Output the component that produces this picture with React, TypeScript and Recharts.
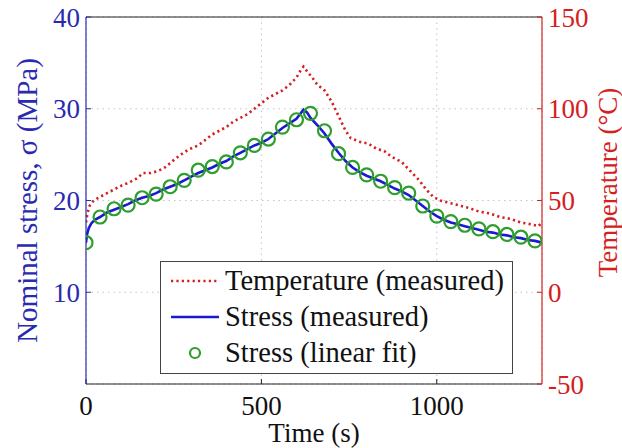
import React from 'react';
import { ComposedChart, Line, XAxis, YAxis, CartesianGrid, ReferenceLine } from 'recharts';

const FONT = '"Liberation Serif", "Times New Roman", serif';
const BLUE = '#1a1ad0';
const AXIS_BLUE = '#2a2ab0';
const RED = '#d42020';
const GREEN = '#2e9e2e';

// Temperature (measured), °C
const tempTime = [0, 4, 10, 22, 40, 60, 80, 100, 125, 145, 163, 185, 205, 225, 250, 270, 295, 320, 340, 360, 380, 400, 420, 440, 460, 480, 500, 520, 540, 560, 580, 600, 612, 620, 632, 645, 660, 680, 700, 720, 740, 755, 780, 805, 830, 850, 870, 900, 920, 950, 970, 990, 1010, 1040, 1070, 1090, 1120, 1150, 1180, 1210, 1240, 1270, 1290, 1300];
const tempValues = [38, 43, 47, 50, 52, 54, 56, 58, 60, 62, 65, 65, 66, 68, 72, 75, 78, 80, 83, 86, 88, 90, 93, 95, 97, 100, 103, 106, 108, 110, 113, 117, 121, 123, 120, 117, 113, 110, 104, 96, 88, 84, 82, 81, 78, 77, 74, 71, 67, 61, 56, 52, 50, 48.5, 47, 46, 44, 43, 41, 40, 38, 37, 36, 38];

// Stress (measured), MPa
const stressTime = [0, 3, 8, 15, 25, 40, 60, 80, 100, 120, 140, 160, 180, 200, 220, 240, 260, 280, 300, 320, 340, 360, 380, 400, 420, 440, 460, 480, 500, 520, 540, 560, 580, 600, 610, 620, 630, 640, 660, 680, 700, 720, 740, 760, 780, 800, 820, 840, 860, 880, 900, 920, 940, 960, 980, 1000, 1020, 1040, 1060, 1080, 1100, 1120, 1140, 1160, 1180, 1200, 1220, 1240, 1260, 1280, 1300];
const stressValues = [15.4, 16.3, 17.0, 17.5, 17.9, 18.2, 18.7, 19.0, 19.3, 19.6, 20.0, 20.3, 20.5, 20.8, 21.2, 21.5, 21.8, 22.2, 22.6, 23.0, 23.3, 23.6, 24.0, 24.3, 24.8, 25.2, 25.6, 26.0, 26.3, 26.7, 27.3, 27.9, 28.4, 28.9, 29.4, 29.9, 29.6, 29.0, 28.2, 27.3, 26.2, 25.2, 24.3, 23.6, 23.1, 22.7, 22.4, 22.1, 21.7, 21.3, 21.0, 20.6, 20.0, 19.4, 18.8, 18.3, 17.9, 17.6, 17.4, 17.2, 17.0, 16.8, 16.6, 16.5, 16.3, 16.2, 16.0, 15.9, 15.7, 15.6, 15.4];

// Stress (linear fit), MPa
const fitTime = [0, 40, 80, 120, 160, 200, 240, 280, 320, 360, 400, 440, 480, 520, 560, 600, 640, 680, 720, 760, 800, 840, 880, 920, 960, 1000, 1040, 1080, 1120, 1160, 1200, 1240, 1280];
const fitValues = [15.4, 18.2, 19.1, 19.5, 20.3, 20.7, 21.5, 22.2, 23.3, 23.7, 24.2, 25.2, 26.0, 26.7, 28.0, 28.8, 29.5, 27.6, 25.1, 23.6, 22.8, 22.1, 21.4, 20.8, 19.4, 18.3, 17.7, 17.3, 16.9, 16.6, 16.3, 16.0, 15.6];

const xTicks = [0, 500, 1000];
const leftTicks = [10, 20, 30, 40];
const rightTicks = [-50, 0, 50, 100, 150];

const legendNames = ['Temperature (measured)', 'Stress (measured)', 'Stress (linear fit)'];

const tempData = tempTime.map((t, i) => ({ t, v: tempValues[i] }));
const stressData = stressTime.map((t, i) => ({ t, v: stressValues[i] }));
const fitData = fitTime.map((t, i) => ({ t, v: fitValues[i] }));

const LeftTitle = (props: any) => {
  const vb = props.viewBox || {};
  const cx = vb.x + 27;
  const cy = vb.y + vb.height / 2;
  return (
    <text x={cx} y={cy} transform={`rotate(-90 ${cx} ${cy})`} textAnchor="middle" dominantBaseline="central"
      fill={AXIS_BLUE} fontFamily={FONT} fontSize={29}>Nominal stress, σ (MPa)</text>
  );
};
const RightTitle = (props: any) => {
  const vb = props.viewBox || {};
  const cx = vb.x + 66;
  const cy = vb.y + vb.height / 2 - 18;
  return (
    <text x={cx} y={cy} transform={`rotate(-90 ${cx} ${cy})`} textAnchor="middle" dominantBaseline="central"
      fill={RED} fontFamily={FONT} fontSize={27}>Temperature (°C)</text>
  );
};
const BottomTitle = (props: any) => {
  const vb = props.viewBox || {};
  const cx = vb.x + vb.width / 2;
  const cy = vb.y + 49;
  return (
    <text x={cx} y={cy} textAnchor="middle" dominantBaseline="central"
      fill="#111" fontFamily={FONT} fontSize={27}>Time (s)</text>
  );
};

export default function App() {
  return (
    <div style={{ position: 'absolute', left: 0, top: 0, width: 622, height: 448, background: '#fff' }}>
      <ComposedChart width={622} height={448} margin={{ top: 17, right: 0, bottom: 0, left: 0 }}>
        <CartesianGrid yAxisId="left" stroke="#c4c4c4" strokeDasharray="1.5 4" />
        <XAxis dataKey="t" type="number" domain={[0, 1300]} ticks={xTicks} allowDataOverflow
          height={64} tickSize={-5} tickMargin={17}
          axisLine={{ stroke: '#222', strokeWidth: 1.2 }} tickLine={{ stroke: '#222' }}
          tick={{ fill: '#111', fontSize: 27, fontFamily: FONT }}
          label={<BottomTitle />} />
        <XAxis xAxisId="top" orientation="top" dataKey="t" type="number" domain={[0, 1300]} ticks={xTicks}
          allowDataOverflow height={0} tickSize={-5} tick={false}
          axisLine={{ stroke: '#222', strokeWidth: 1.2 }} tickLine={{ stroke: '#222' }} />
        <YAxis yAxisId="left" domain={[0, 40]} ticks={leftTicks} width={86} allowDataOverflow
          tickSize={-5} tickMargin={11}
          axisLine={{ stroke: AXIS_BLUE, strokeWidth: 1.2 }} tickLine={{ stroke: AXIS_BLUE }}
          tick={{ fill: AXIS_BLUE, fontSize: 27, fontFamily: FONT }}
          label={<LeftTitle />} />
        <YAxis yAxisId="right" orientation="right" domain={[-50, 150]} ticks={rightTicks} width={80} allowDataOverflow
          tickSize={-5} tickMargin={11}
          axisLine={{ stroke: RED, strokeWidth: 1.2 }} tickLine={{ stroke: RED }}
          tick={{ fill: RED, fontSize: 27, fontFamily: FONT }}
          label={<RightTitle />} />
        <ReferenceLine yAxisId="left" y={40} stroke="#222" strokeWidth={1.2} />
        <Line yAxisId="right" data={tempData} dataKey="v" type="linear" stroke={RED} strokeWidth={2.6}
          strokeDasharray="2.2 3.2" dot={false} isAnimationActive={false} />
        <Line yAxisId="left" data={stressData} dataKey="v" type="linear" stroke={BLUE} strokeWidth={2.6}
          dot={false} isAnimationActive={false} />
        <Line yAxisId="left" data={fitData} dataKey="v" type="linear" stroke="none"
          dot={{ r: 6.5, stroke: GREEN, strokeWidth: 2.2, fill: 'none' }} isAnimationActive={false} />
      </ComposedChart>
      <div style={{ position: 'absolute', left: 160, top: 261, width: 353, height: 113, boxSizing: 'border-box',
        border: '1.5px solid #444', background: '#fff', paddingTop: 1 }}>
        {legendNames.map((name, i) => (
          <div key={name} style={{ display: 'flex', alignItems: 'center', height: 36 }}>
            <svg width={64} height={36} style={{ flex: 'none' }}>
              {i === 0 && <line x1={10} x2={58} y1={18} y2={18} stroke={RED} strokeWidth={2.6} strokeDasharray="2.2 3.2" />}
              {i === 1 && <line x1={10} x2={58} y1={18} y2={18} stroke={BLUE} strokeWidth={2.6} />}
              {i === 2 && <circle cx={34} cy={18} r={5} stroke={GREEN} strokeWidth={2.2} fill="none" />}
            </svg>
            <span style={{ fontFamily: FONT, fontSize: 28.5, color: '#111', whiteSpace: 'nowrap', lineHeight: '36px' }}>{name}</span>
          </div>
        ))}
      </div>
    </div>
  );
}
